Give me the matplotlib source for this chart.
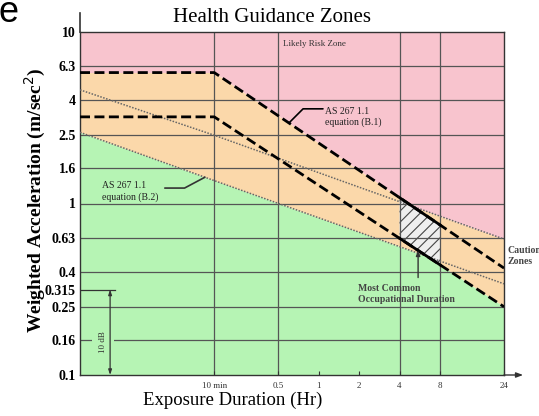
import numpy as np
import matplotlib
matplotlib.use('Agg')
import matplotlib.pyplot as plt

# exposure duration [hr] vs frequency-weighted acceleration [m/s^2]
t_b1 = [1/60, 1/6, 24]
b1_upper = [5.8, 5.8, 0.42]
b1_lower = [3.2, 3.2, 0.25]

t_b2 = [1/60, 1/6, 24]
b2_upper = [4.6, 2.5, 0.62]
b2_lower = [2.6, 1.36, 0.34]

occ_span = [4, 8]   # most common occupational duration [hr]

ytick_vals = [10, 6.3, 4, 2.5, 1.6, 1, 0.63, 0.4, 0.315, 0.25, 0.16, 0.1]
ytick_labels = ['10', '6.3', '4', '2.5', '1.6', '1', '0.63', '0.4', '0.315', '0.25', '0.16', '0.1']
ygrid_vals = [6.3, 4, 2.5, 1.6, 1, 0.63, 0.4, 0.25, 0.16]
xtick_vals = [1/6, 0.5, 1, 2, 4, 8, 24]
xtick_labels = ['10 min', '0.5', '1', '2', '4', '8', '24']
xgrid_vals = [1/6, 0.5, 4, 8]

PINK = '#f8c4ce'
PEACH = '#fbd8aa'
GREEN = '#b6f4b4'
SERIF = 'Liberation Serif'


def loglog(t, tp, ap):
    return 10 ** np.interp(np.log10(t), np.log10(tp), np.log10(ap))


plt.rcParams['font.family'] = SERIF
plt.rcParams['hatch.linewidth'] = 0.8

fig = plt.figure(figsize=(5.39, 4.16), dpi=100)
ax = fig.add_axes([80/539, 41/416, 424/539, 343/416])
ax.set_xscale('log')
ax.set_yscale('log')
ax.set_xlim(1/60, 24)
ax.set_ylim(0.1, 10)

# zones
tt = np.unique(np.concatenate([np.logspace(np.log10(1/60), np.log10(24), 500), t_b1]))
top = np.maximum(loglog(tt, t_b1, b1_upper), loglog(tt, t_b2, b2_upper))
bot = np.minimum(loglog(tt, t_b1, b1_lower), loglog(tt, t_b2, b2_lower))
ax.fill_between(tt, top, 10, color=PINK, lw=0, zorder=0)
ax.fill_between(tt, bot, top, color=PEACH, lw=0, zorder=0)
ax.fill_between(tt, 0.1, bot, color=GREEN, lw=0, zorder=0)

# occupational duration block
th = np.logspace(np.log10(occ_span[0]), np.log10(occ_span[1]), 60)
ax.fill_between(th, loglog(th, t_b1, b1_lower), loglog(th, t_b1, b1_upper),
                facecolor='#eeeeee', edgecolor='#444444', hatch='///', lw=0, zorder=1)

# grid
for y in ygrid_vals:
    ax.axhline(y, color='#555555', lw=0.9, zorder=1.5)
for x in xgrid_vals:
    ax.axvline(x, color='#555555', lw=0.9, zorder=1.5)

# guidance lines
for vals in (b2_upper, b2_lower):
    ax.plot(t_b2, vals, color='#666666', lw=1.1, ls=(0, (1, 1)), zorder=3)
for vals in (b1_upper, b1_lower):
    ax.plot(t_b1, vals, color='k', lw=2, dashes=(3.6, 1.6), zorder=4)
    ax.plot(th, loglog(th, t_b1, vals), color='k', lw=2, zorder=4)

# axes
ax.set_yticks(ytick_vals)
ax.set_yticklabels(ytick_labels, fontsize=10, fontweight='bold')
ax.set_xticks(xtick_vals)
ax.set_xticklabels(xtick_labels, fontsize=6.5, color='#333333')
ax.minorticks_off()
ax.tick_params(axis='y', length=0, pad=3)
ax.tick_params(axis='x', direction='in', length=3, pad=5, color='#333333')
for s in ax.spines.values():
    s.set_color('#333333')
    s.set_linewidth(1)

ax.annotate('', xy=(1.045, 0), xytext=(1, 0), xycoords='axes fraction',
            arrowprops=dict(arrowstyle='-|>,head_length=0.4,head_width=0.15',
                            color='#333333', lw=1, shrinkA=0, shrinkB=0),
            annotation_clip=False)
ax.plot([0, 0], [1, 1.055], transform=ax.transAxes, color='#333333', lw=1.2, clip_on=False)

# 10 dB span
ax.plot([0, 0.083], [0.315, 0.315], transform=ax.get_yaxis_transform(),
        color='#333333', lw=0.9, zorder=2)
ax.text(0.054, 0.096, '10 dB', transform=ax.transAxes, rotation=90, fontsize=6.5,
        ha='center', va='center', color='#333333', zorder=2.5,
        bbox=dict(boxstyle='square,pad=0.8', fc=GREEN, ec='none'))
ax.annotate('', xy=(0.071, 0.1), xytext=(0.071, 0.315),
            xycoords=('axes fraction', 'data'), textcoords=('axes fraction', 'data'),
            arrowprops=dict(arrowstyle='<|-|>,head_length=0.3,head_width=0.1',
                            color='#333333', lw=0.9, shrinkA=0, shrinkB=0), zorder=3)

# labels
ax.text(0.479, 0.965, 'Likely Risk Zone', transform=ax.transAxes, fontsize=6.5,
        ha='left', va='center', color='#333333')

t1 = 0.6
ax.annotate('', xy=(t1, loglog(t1, t_b1, b1_upper)), xytext=(0.573, 0.776),
            textcoords='axes fraction',
            arrowprops=dict(arrowstyle='-', color='k', lw=1.2, shrinkA=0, shrinkB=0,
                            connectionstyle='angle,angleA=0,angleB=45'), zorder=5)
ax.text(0.578, 0.751, 'AS 267 1.1\nequation (B.1)', transform=ax.transAxes,
        fontsize=7, ha='left', va='center', color='#222222', linespacing=1.2)

t2 = 0.142
ax.annotate('', xy=(t2, loglog(t2, t_b2, b2_lower)), xytext=(0.200, 0.545),
            textcoords='axes fraction',
            arrowprops=dict(arrowstyle='-', color='#333333', lw=1.2, shrinkA=0, shrinkB=0,
                            connectionstyle='angle,angleA=0,angleB=28'), zorder=5)
ax.text(0.052, 0.535, 'AS 267 1.1\nequation (B.2)', transform=ax.transAxes,
        fontsize=7, ha='left', va='center', color='#222222', linespacing=1.2)

t3 = 5.5
ax.annotate('', xy=(t3, loglog(t3, t_b1, b1_lower)), xytext=(t3, 0.37),
            arrowprops=dict(arrowstyle='-|>,head_length=0.3,head_width=0.12',
                            color='#333333', lw=1, shrinkA=0, shrinkB=0), zorder=5)
ax.text(0.656, 0.236, 'Most Common\nOccupational Duration', transform=ax.transAxes,
        fontsize=7, fontweight='bold', ha='left', va='center', color='#444444',
        linespacing=1.25)

ax.text(1.009, 0.347, 'Caution\nZones', transform=ax.transAxes, fontsize=7,
        fontweight='bold', ha='left', va='center', color='#444444',
        linespacing=1.25, clip_on=False)

fig.text(272/539, 1 - 17/416, 'Health Guidance Zones', fontsize=15,
         ha='center', va='center')
fig.text(233/539, 1 - 400/416, 'Exposure Duration (Hr)', fontsize=13.5,
         ha='center', va='center')
fig.text(35/539, 1 - 200/416, 'Weighted Acceleration (m/sec$^2$)', fontsize=14,
         fontweight='bold', rotation=90, ha='center', va='center')
fig.text(19/539, 1 - 22/416, 'e', fontsize=26, family='Liberation Sans',
         ha='right', va='baseline')

fig.savefig('out.png', dpi=100)
